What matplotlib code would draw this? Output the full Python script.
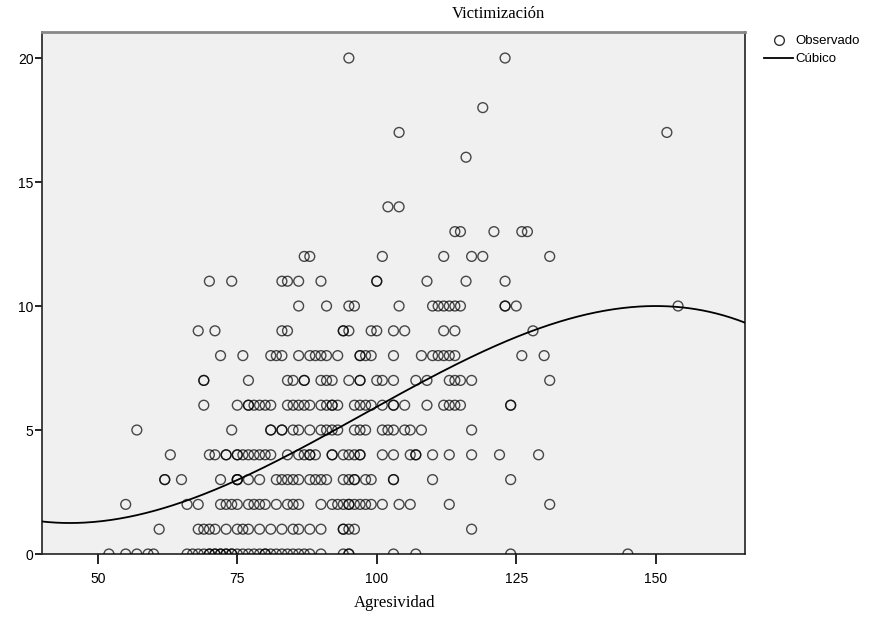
import numpy as np
import matplotlib
matplotlib.use("Agg")
import matplotlib.pyplot as plt
from matplotlib.lines import Line2D

# ---- data ----
row0 = [52, 55, 57, 59, 60, 66, 67, 68, 69, 70, 70, 71, 71, 72, 72, 73, 73, 74, 74, 75, 76, 77, 78, 79, 80, 80,
        81, 82, 83, 84, 85, 86, 87, 88, 90, 94, 95, 95, 103, 107, 124, 145]
row1 = [61, 68, 69, 70, 71, 73, 75, 76, 77, 79, 81, 83, 85, 86, 88, 90, 94, 94, 95, 96, 117]
row2 = [55, 66, 68, 72, 73, 74, 75, 77, 78, 79, 80, 82, 84, 85, 86, 90, 92, 93, 94, 95, 95, 96, 97, 98, 99,
        101, 104, 106, 113, 131]
row3 = [62, 62, 65, 72, 75, 75, 75, 77, 79, 82, 83, 84, 85, 86, 88, 89, 90, 91, 94, 95, 96, 96, 98, 99,
        103, 103, 110, 124]
row4 = [63, 70, 71, 73, 73, 75, 75, 76, 77, 78, 79, 80, 81, 84, 86, 87, 88, 88, 89, 92, 92, 94, 95, 96, 97, 97,
        101, 103, 106, 107, 107, 110, 113, 117, 122, 129]
row5 = [57, 74, 81, 81, 83, 83, 85, 86, 88, 90, 91, 92, 93, 96, 97, 98, 101, 102, 103, 105, 106, 108, 117]
row6 = [69, 75, 77, 77, 78, 79, 80, 81, 84, 85, 86, 87, 88, 90, 91, 92, 92, 93, 96, 97, 98, 99, 101, 103, 103,
        105, 109, 112, 113, 114, 115, 124, 124]
row7 = [69, 69, 77, 84, 85, 87, 87, 90, 91, 92, 95, 97, 97, 100, 101, 103, 107, 109, 113, 114, 115, 117, 131]
row8 = [72, 76, 81, 82, 83, 86, 88, 89, 90, 91, 93, 97, 97, 98, 99, 103, 108, 110, 111, 112, 113, 114, 126, 130]
row9 = [68, 71, 83, 84, 94, 94, 95, 99, 100, 103, 105, 112, 114, 128]
row10 = [86, 91, 95, 96, 104, 110, 111, 112, 113, 114, 115, 123, 123, 125, 154]
row11 = [70, 74, 83, 84, 86, 90, 100, 100, 109, 116, 123]
row12 = [87, 88, 101, 112, 117, 119, 131]
row13 = [114, 115, 121, 126, 127]
row14 = [102, 104]
row16 = [116]
row17 = [104, 152]
row18 = [119]
row20 = [95, 123]

rows = {0: row0, 1: row1, 2: row2, 3: row3, 4: row4, 5: row5, 6: row6, 7: row7, 8: row8,
        9: row9, 10: row10, 11: row11, 12: row12, 13: row13, 14: row14, 16: row16,
        17: row17, 18: row18, 20: row20}

# cubic fit coefficients (highest power first)
cubic_coef = [-1.5117e-5, 4.4217e-3, -0.30612, 7.449]

x_ticks = [50, 75, 100, 125, 150]
y_ticks = [0, 5, 10, 15, 20]
title = "Victimización"
xlabel = "Agresividad"
legend_labels = ["Observado", "Cúbico"]

# ---- figure ----
fig = plt.figure(figsize=(8.85, 6.18), dpi=100)
ax = fig.add_axes([42 / 885, 1 - 554 / 618, (745 - 42) / 885, (554 - 32) / 618])
ax.set_facecolor("#f0f0f0")

xs = np.concatenate([np.array(v, float) for v in rows.values()])
ys = np.concatenate([np.full(len(v), k, float) for k, v in rows.items()])
ax.scatter(xs, ys, s=50, facecolors="none", edgecolors=(0, 0, 0, 0.7), linewidths=1.0, zorder=3)

xx = np.linspace(40, 166, 400)
ax.plot(xx, np.polyval(cubic_coef, xx), color="black", lw=1.3, zorder=4)

ax.set_xlim(40, 166)
ax.set_ylim(0, 21.05)
ax.set_xticks(x_ticks)
ax.set_yticks(y_ticks)
ax.tick_params(axis="x", direction="out", length=7, width=1.2, labelsize=10, pad=6)
ax.tick_params(axis="y", direction="out", length=5, width=1.2, labelsize=10, pad=1)
for lab in ax.get_xticklabels() + ax.get_yticklabels():
    lab.set_family("Liberation Sans")
for s in ["left", "bottom", "right"]:
    ax.spines[s].set_color("#222222")
    ax.spines[s].set_linewidth(1.2)
ax.spines["top"].set_color("#888888")
ax.spines["top"].set_linewidth(2)

fig.text(498 / 885, 1 - 14 / 618, title, ha="center", va="center", fontsize=12,
         family="Liberation Serif")
fig.text(395 / 885, 1 - 603 / 618, xlabel, ha="center", va="center", fontsize=12,
         family="Liberation Serif")

handles = [Line2D([], [], ls="none", marker="o", markersize=7, markerfacecolor="none",
                  markeredgecolor="#333333", markeredgewidth=1.0),
           Line2D([], [], color="black", lw=1.3)]
fig.legend(handles, legend_labels, loc="upper left", bbox_to_anchor=(764 / 885, 1 - 35 / 618),
           frameon=False, handlelength=2.2, handletextpad=0.2, labelspacing=0.45,
           borderpad=0, borderaxespad=0, prop={"family": "Liberation Sans", "size": 9.5})

fig.savefig("out.png", dpi=100)
